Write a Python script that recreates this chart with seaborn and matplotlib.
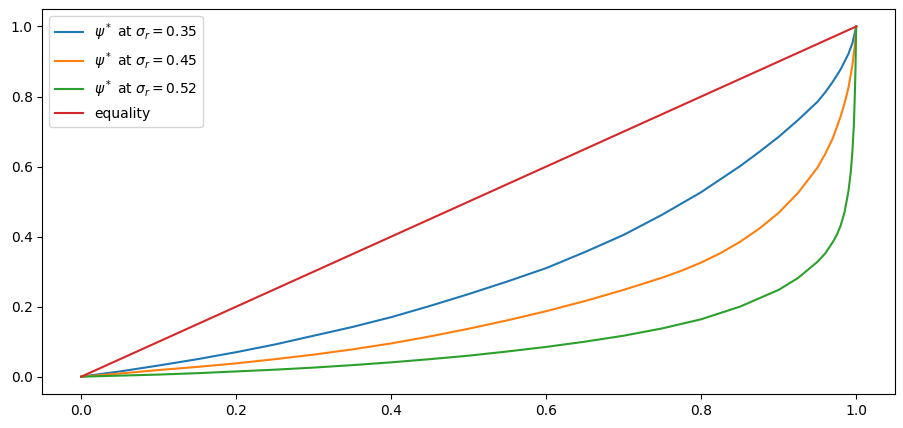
import matplotlib
matplotlib.use("Agg")
import matplotlib.pyplot as plt
import seaborn as sns

# Population share (x) and read-off income shares for each curve
x_blue = [0, 0.05, 0.1, 0.15, 0.2, 0.25, 0.3, 0.35, 0.4, 0.45, 0.5, 0.55, 0.6, 0.65, 0.7, 0.75,
          0.8, 0.85, 0.875, 0.9, 0.925, 0.95, 0.96, 0.97, 0.98, 0.99, 0.995, 1.0]
y_blue = [0, 0.015, 0.032, 0.05, 0.07, 0.092, 0.117, 0.142, 0.17, 0.202, 0.236, 0.272, 0.31, 0.356, 0.405, 0.463,
          0.527, 0.601, 0.642, 0.685, 0.733, 0.785, 0.812, 0.843, 0.878, 0.922, 0.952, 1.0]

x_orange = [0, 0.05, 0.1, 0.15, 0.2, 0.25, 0.3, 0.35, 0.4, 0.45, 0.5, 0.55, 0.6, 0.65, 0.7, 0.75,
            0.775, 0.8, 0.825, 0.85, 0.875, 0.9, 0.925, 0.95, 0.96, 0.97, 0.98, 0.985, 0.99, 0.995, 0.998, 1.0]
y_orange = [0, 0.009, 0.019, 0.028, 0.038, 0.05, 0.063, 0.078, 0.095, 0.115, 0.137, 0.161, 0.187, 0.216, 0.248, 0.283,
            0.303, 0.326, 0.353, 0.385, 0.423, 0.468, 0.525, 0.597, 0.636, 0.682, 0.744, 0.781, 0.825, 0.888, 0.942, 1.0]

x_green = [0, 0.05, 0.1, 0.15, 0.2, 0.25, 0.3, 0.35, 0.4, 0.45, 0.5, 0.55, 0.6, 0.65, 0.7, 0.75,
           0.8, 0.85, 0.9, 0.925, 0.95, 0.96, 0.97, 0.975, 0.98, 0.985, 0.99, 0.993, 0.995, 0.997, 0.998, 0.999, 1.0]
y_green = [0, 0.003, 0.006, 0.01, 0.015, 0.02, 0.026, 0.033, 0.041, 0.05, 0.06, 0.072, 0.085, 0.1, 0.117, 0.138,
           0.164, 0.2, 0.248, 0.282, 0.328, 0.352, 0.385, 0.405, 0.432, 0.47, 0.53, 0.585, 0.64, 0.72, 0.79, 0.87, 1.0]

x_equal = [0, 1]
y_equal = [0, 1]

labels = [r"$\psi^*$ at $\sigma_r = 0.35$",
          r"$\psi^*$ at $\sigma_r = 0.45$",
          r"$\psi^*$ at $\sigma_r = 0.52$",
          "equality"]
colors = ["#1f77b4", "#ff7f0e", "#2ca02c", "#d62728"]

fig = plt.figure(figsize=(9.04, 4.28), dpi=100)
ax = fig.add_axes([0.047, 0.079, 0.943, 0.900])

series = [(x_blue, y_blue), (x_orange, y_orange), (x_green, y_green), (x_equal, y_equal)]
for (xs, ys), lab, c in zip(series, labels, colors):
    sns.lineplot(x=xs, y=ys, ax=ax, label=lab, color=c, estimator=None, sort=False, linewidth=1.5)

ax.set_xlim(-0.05, 1.05)
ax.set_ylim(-0.05, 1.05)
ax.set_xticks([0.0, 0.2, 0.4, 0.6, 0.8, 1.0])
ax.set_yticks([0.0, 0.2, 0.4, 0.6, 0.8, 1.0])
ax.legend(loc="upper left")
fig.savefig("out.png", dpi=100)
